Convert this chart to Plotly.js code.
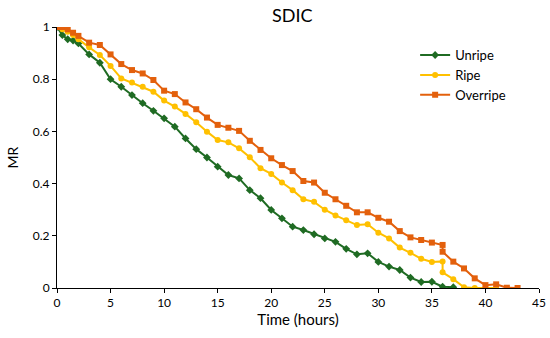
<!DOCTYPE html>
<html>
<head>
<meta charset="utf-8">
<script src="https://cdn.plot.ly/plotly-3.0.1.min.js"></script>
<style>html,body{margin:0;padding:0;background:#fff;}#chart{width:550px;height:338px;}</style>
</head>
<body>
<div id="chart"></div>
<script>
// Time (hours)
var unripeTime = [0,0.5,1,1.5,2,3,4,5,6,7,8,9,10,11,12,13,14,15,16,17,18,19,20,21,22,23,24,25,26,27,28,29,30,31,32,33,34,35,36,37];
var unripeMR   = [1.0,0.969,0.953,0.948,0.937,0.895,0.863,0.800,0.771,0.739,0.708,0.679,0.650,0.618,0.573,0.532,0.500,0.465,0.433,0.420,0.375,0.344,0.299,0.267,0.235,0.222,0.206,0.190,0.177,0.150,0.129,0.133,0.100,0.082,0.069,0.040,0.023,0.024,0.005,0.003];

var ripeTime = [0,0.5,1,1.5,2,3,4,5,6,7,8,9,10,11,12,13,14,15,16,17,18,19,20,21,22,23,24,25,26,27,28,29,30,31,32,33,34,35,36,36,37,38,39,40,41];
var ripeMR   = [1.0,0.991,0.982,0.969,0.953,0.922,0.893,0.851,0.803,0.787,0.771,0.752,0.718,0.695,0.667,0.635,0.599,0.567,0.558,0.535,0.501,0.459,0.437,0.404,0.375,0.340,0.330,0.300,0.278,0.260,0.241,0.244,0.212,0.190,0.155,0.135,0.112,0.100,0.102,0.060,0.034,0.003,0.0,0.0,0.0];

var overTime = [0,0.5,1,1.5,2,3,4,5,6,7,8,9,10,11,12,13,14,15,16,17,18,19,20,21,22,23,24,25,26,27,28,29,30,31,32,33,34,35,36,36,37,38,39,40,41,42,43];
var overMR   = [1.0,1.0,0.991,0.978,0.966,0.940,0.931,0.895,0.858,0.835,0.822,0.797,0.756,0.743,0.711,0.685,0.653,0.625,0.614,0.602,0.564,0.529,0.497,0.471,0.448,0.410,0.404,0.365,0.340,0.315,0.290,0.290,0.269,0.254,0.218,0.194,0.184,0.174,0.165,0.139,0.101,0.075,0.037,0.011,0.014,0.001,0.0];

var xTicks = [0,5,10,15,20,25,30,35,40,45];
var yTicks = [0,0.2,0.4,0.6,0.8,1];
var yTickText = ['0','0.2','0.4','0.6','0.8','1'];

var FONT = 'Lato, "Liberation Sans", sans-serif';

var traces = [
  {x: unripeTime, y: unripeMR, name: 'Unripe', mode: 'lines+markers',
   line: {color: '#1f6b23', width: 2}, marker: {symbol: 'diamond', size: 6, color: '#1f6b23'}},
  {x: ripeTime, y: ripeMR, name: 'Ripe', mode: 'lines+markers',
   line: {color: '#ffc000', width: 2}, marker: {symbol: 'circle', size: 6, color: '#ffc000'}},
  {x: overTime, y: overMR, name: 'Overripe', mode: 'lines+markers',
   line: {color: '#e3600c', width: 2}, marker: {symbol: 'square', size: 6, color: '#e3600c'}}
];

var layout = {
  width: 550, height: 338,
  margin: {l: 57, r: 11, t: 27, b: 50},
  paper_bgcolor: '#fff', plot_bgcolor: '#fff',
  font: {family: FONT, size: 12, color: '#000'},
  title: {text: 'SDIC', x: 0.488, xref: 'paper', xanchor: 'center', y: 0.955, yanchor: 'middle', font: {family: FONT, size: 18, color: '#000'}},
  showlegend: true,
  legend: {x: 0.743, y: 0.95, xanchor: 'left', yanchor: 'top', font: {family: FONT, size: 13, color: '#000'},
           bgcolor: 'rgba(0,0,0,0)', tracegroupgap: 0, itemwidth: 30},
  xaxis: {range: [0, 45], tickmode: 'array', tickvals: xTicks, ticktext: xTicks.map(String),
          showgrid: false, zeroline: false, showline: true, linecolor: '#000', linewidth: 1,
          ticks: 'outside', ticklen: 4, tickcolor: '#000',
          tickfont: {family: FONT, size: 12, color: '#000'},
          title: {text: 'Time (hours)', font: {family: FONT, size: 15, color: '#000'}, standoff: 5}},
  yaxis: {range: [0, 1], tickmode: 'array', tickvals: yTicks, ticktext: yTickText,
          showgrid: false, zeroline: false, showline: true, linecolor: '#000', linewidth: 1,
          ticks: 'outside', ticklen: 4, tickcolor: '#000',
          tickfont: {family: FONT, size: 12, color: '#000'},
          title: {text: 'MR', font: {family: FONT, size: 14, color: '#000'}, standoff: 10}}
};

Plotly.newPlot('chart', traces, layout, {displayModeBar: false, staticPlot: true});
</script>
</body>
</html>
